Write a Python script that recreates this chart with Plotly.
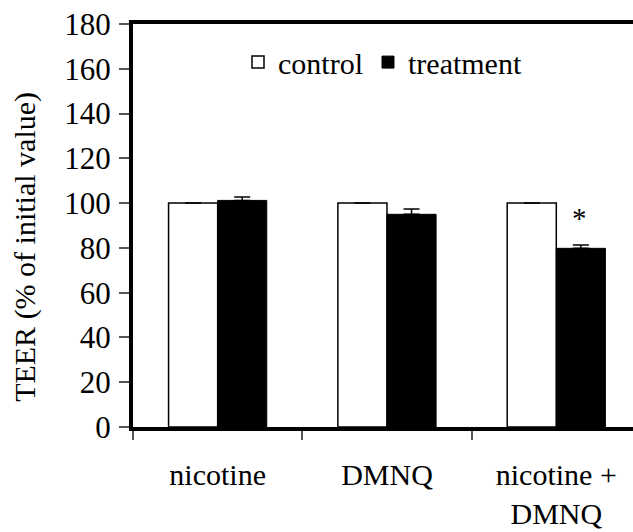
import plotly.graph_objects as go

categories = ["nicotine", "DMNQ", "nicotine +<br>DMNQ"]
control = [100, 100, 100]
control_err = [0, 0, 0]
treatment = [101.2, 95.0, 79.8]
treatment_err = [1.5, 2.4, 1.5]
y_ticks = [0, 20, 40, 60, 80, 100, 120, 140, 160, 180]
significance = ["", "", "*"]

FONT = "Liberation Serif"

fig = go.Figure()
fig.add_trace(go.Bar(
    name="control", x=categories, y=control,
    marker=dict(color="white", line=dict(color="black", width=1.5)),
    error_y=dict(type="data", array=control_err, arrayminus=[0]*3, symmetric=False,
                 color="black", thickness=1.5, width=8),
))
fig.add_trace(go.Bar(
    name="treatment", x=categories, y=treatment,
    marker=dict(color="black", line=dict(color="black", width=1)),
    error_y=dict(type="data", array=treatment_err, arrayminus=[0]*3, symmetric=False,
                 color="black", thickness=1.5, width=8),
))

for cat, v, e, s in zip(categories, treatment, treatment_err, significance):
    if s:
        fig.add_annotation(x=cat, y=v + e, text=s, showarrow=False, xshift=23,
                           yanchor="bottom", yshift=9,
                           font=dict(family=FONT, size=29, color="black"))

fig.add_annotation(xref="paper", yref="paper", x=-0.216, y=0.447,
                   xanchor="center", yanchor="middle",
                   text="TEER (% of initial value)", textangle=-90, showarrow=False,
                   font=dict(family=FONT, size=30, color="black"))

fig.update_layout(
    template="none",
    width=633, height=532,
    margin=dict(l=133, r=0, t=24, b=105),
    paper_bgcolor="white", plot_bgcolor="white",
    barmode="group", bargap=0.42, bargroupgap=0,
    font=dict(family=FONT, size=30, color="black"),
    showlegend=True,
    legend=dict(orientation="h", x=0.21, y=0.97, xanchor="left", yanchor="top",
                bgcolor="rgba(0,0,0,0)", font=dict(family=FONT, size=30, color="black"),
                itemwidth=30),
)
fig.update_xaxes(
    type="category", range=[-0.5, 2.453], tickson="boundaries",
    ticks="outside", ticklen=9, tickwidth=1.5, tickcolor="#555",
    showline=True, linecolor="black", linewidth=4, mirror=True,
    showgrid=False, zeroline=False, ticklabelstandoff=18,
    tickfont=dict(family=FONT, size=30, color="black"),
)
fig.update_yaxes(
    range=[0, 180], tickvals=y_ticks, ticks="outside", ticklen=10, tickwidth=1.5,
    tickcolor="#555", showline=True, linecolor="black", linewidth=4, mirror=False,
    showgrid=False, zeroline=False, ticklabelstandoff=2,
    tickfont=dict(family=FONT, size=31, color="black"),
)

fig.write_html("out.html")
